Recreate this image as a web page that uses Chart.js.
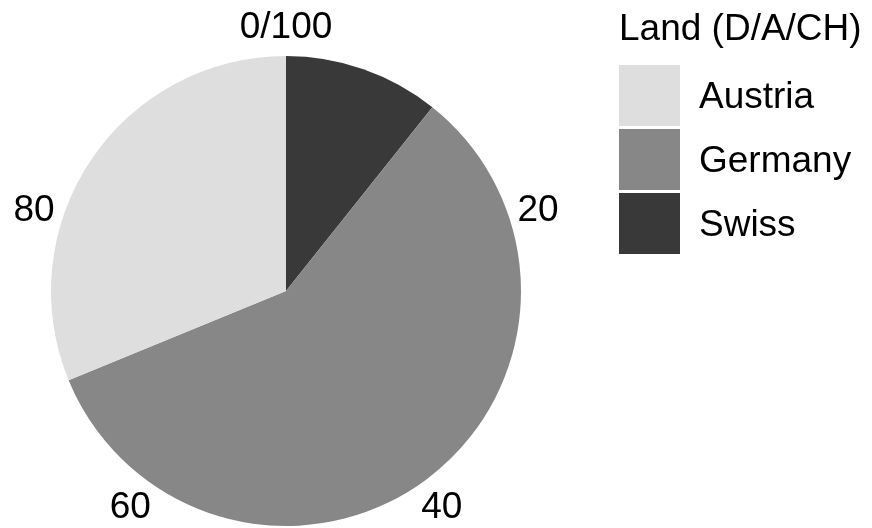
<!DOCTYPE html>
<html>
<head>
<meta charset="utf-8">
<script src="https://cdn.jsdelivr.net/npm/chart.js@4.4.0/dist/chart.umd.min.js"></script>
<style>
  body { margin: 0; background: #fff; }
  #wrap { width: 872px; height: 528px; }
</style>
</head>
<body>
<div id="wrap"><canvas id="myChart" width="872" height="528"></canvas></div>
<script>
const categories = ['Austria', 'Germany', 'Swiss']
const shares = [31.2, 58.1, 10.7]
const colors = ['#dedede', '#878787', '#393939']
const tickValues = [0, 20, 40, 60, 80]
const tickLabels = ['0/100', '20', '40', '60', '80']
const legendTitle = 'Land (D/A/CH)'

const font = '"Liberation Sans", Arial, sans-serif'

// ggplot stacks the last level first, so the pie runs Swiss -> Germany -> Austria
const pieLabels = categories.slice().reverse()
const pieValues = shares.slice().reverse()
const pieColors = colors.slice().reverse()

const extras = {
    id: 'extras',
    afterDraw: (chart) => {
        const c = chart.ctx
        const arc = chart.getDatasetMeta(0).data[0]
        const cx = arc.x, cy = arc.y, r = arc.outerRadius
        c.save()
        c.fillStyle = '#000'
        c.font = '37px ' + font
        c.textAlign = 'center'
        c.textBaseline = 'middle'
        tickValues.forEach((v, i) => {
            const a = v / 100 * Math.PI * 2
            const rr = r + 30
            c.fillText(tickLabels[i], cx + rr * Math.sin(a), cy - rr * Math.cos(a) + 2)
        })

        // legend
        const lx = cx + r + 98
        c.textAlign = 'left'
        c.fillText(legendTitle, lx, 30)
        categories.forEach((name, i) => {
            const top = 65 + i * 64
            c.fillStyle = colors[i]
            c.fillRect(lx, top, 61, 61)
            c.fillStyle = '#000'
            c.fillText(name, lx + 80, top + 33)
        })
        c.restore()
    }
}

new Chart(document.getElementById('myChart').getContext('2d'), {
    type: 'pie',
    data: {
        labels: pieLabels,
        datasets: [{
            data: pieValues,
            backgroundColor: pieColors,
            borderWidth: 0
        }]
    },
    options: {
        responsive: false,
        animation: false,
        rotation: 0,
        layout: { padding: { left: 51, right: 351, top: 56, bottom: 2 } },
        plugins: {
            legend: { display: false },
            tooltip: { enabled: false }
        }
    },
    plugins: [extras]
})
</script>
</body>
</html>
